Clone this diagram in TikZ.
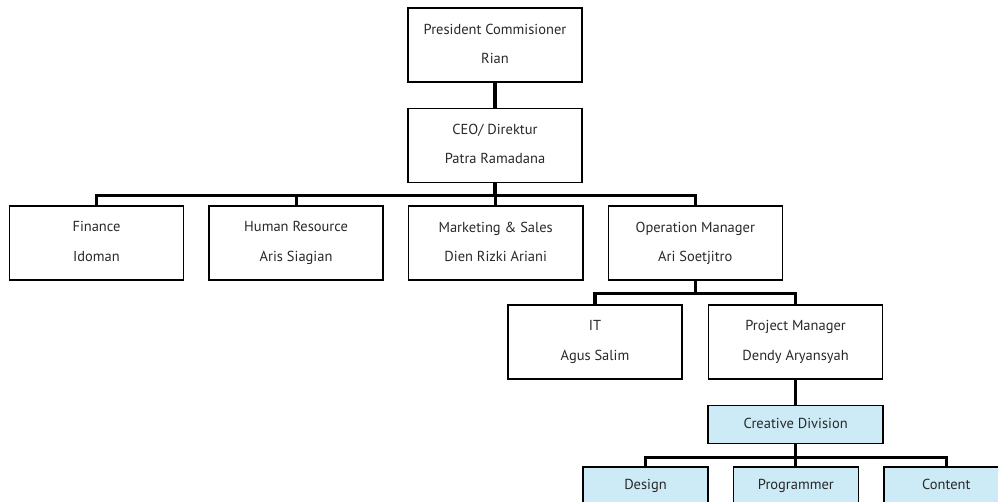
\documentclass[tikz,border=0pt]{standalone}
\usepackage{fontspec}
\setmainfont{PT Sans}
\usepackage{tikz}
\usetikzlibrary{positioning}
\definecolor{divblue}{RGB}{205,235,247}
\definecolor{txtgray}{RGB}{40,40,40}

\begin{document}
\begin{tikzpicture}[x=0.025cm, y=-0.025cm,   align=center,   inner sep=0pt,
      font={\fontsize{10.3}{20.8}\selectfont}, text=txtgray,
      execute at begin node=\vphantom{Ag}, execute at end node=\vphantom{Ag},
      post/.style={draw,  line width=1.1pt, minimum width=4.35cm, minimum height=1.85cm },
      unit/.style={draw,  line width=1.1pt, fill=divblue, minimum width=4.37cm, minimum height=0.95cm },
      team/.style={draw,  line width=1.1pt, fill=divblue, minimum width=3.12cm, minimum height=0.95cm },
      conn/.style={line width=2.2pt, line cap=rect },  ]

    \useasboundingbox (0,0) rectangle (998,501);
    \clip (0,0) rectangle (998,501);

    \begin{scope}[node distance=0.625cm]
      \node[post                  ] (pres) at (495,45) {President Commisioner\\ Rian};
      \node[post, below = of pres ] (ceo)  {CEO/ Direktur\\ Patra Ramadana};
    \end{scope}

    \begin{scope}[node distance=0.6cm]
      \node[post                  ] (fin)  at (96.5,243) {Finance\\ Idoman};
      \node[post, right = of fin  ] (hr)   {Human Resource\\ Aris Siagian};
      \node[post, right = of hr   ] (mkt)  {Marketing \& Sales\\ Dien Rizki Ariani};
      \node[post, right = of mkt  ] (ops)  {Operation Manager\\ Ari Soetjitro};
    \end{scope}

    \begin{scope}[node distance=0.625cm]
      \node[post                  ] (it)   at (595,342) {IT\\ Agus Salim};
      \node[post, right = of it   ] (pm)   {Project Manager\\ Dendy Aryansyah};
      \node[unit, below = of pm   ] (cd)   {Creative Division};
    \end{scope}

    \begin{scope}[node distance=0.6cm]
      \node[team                  ] (design)  at (645.5,486) {Design};
      \node[team, right = of design] (prog)    {Programmer};
      \node[team, right = of prog  ] (content) {Content};
    \end{scope}

    \begin{scope}[conn]
      \draw (pres) -- (ceo);
      \foreach \n in {fin,hr,mkt,ops}
        \draw (ceo.south) -- +(0,12) -| (\n.north);
      \foreach \n in {it,pm}
        \draw (ops.south) -- +(0,13) -| (\n.north);
      \draw (pm) -- (cd);
      \foreach \n in {design,prog,content}
        \draw (cd.south) -- +(0,13) -| (\n.north);
    \end{scope}

  \end{tikzpicture}
\end{document}
